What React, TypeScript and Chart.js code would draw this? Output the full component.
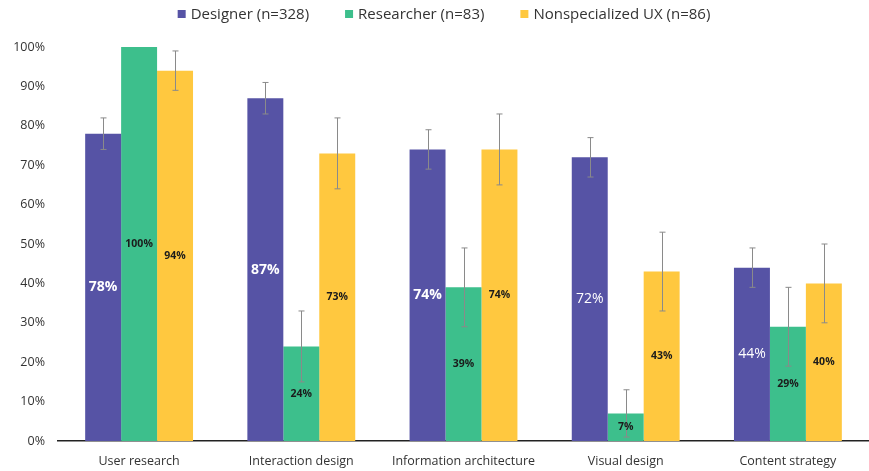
import React, { useEffect, useRef } from "react";
import { Chart, registerables } from "chart.js";

Chart.register(...registerables);

const categories = ["User research", "Interaction design", "Information architecture", "Visual design", "Content strategy"];
const seriesNames = ["Designer (n=328)", "Researcher (n=83)", "Nonspecialized UX (n=86)"];
const designer = [78, 87, 74, 72, 44];
const researcher = [100, 24, 39, 7, 29];
const nonspecialized = [94, 73, 74, 43, 40];
const designerErr = [4, 4, 5, 5, 5];
const researcherErr = [0, 9, 10, 6, 10];
const nonspecializedErr = [5, 9, 9, 10, 10];
const yTicks = [0, 10, 20, 30, 40, 50, 60, 70, 80, 90, 100];

const colors = ["#5653A5", "#3DBF8C", "#FFC83F"];
const errs = [designerErr, researcherErr, nonspecializedErr];
const boldDesigner = [true, true, true, false, false];
const FONT = "'Open Sans'";

const errorBarPlugin = {
  id: "errorBars",
  afterDatasetsDraw(chart: any) {
    const ctx = chart.ctx;
    const y = chart.scales.y;
    ctx.save();
    ctx.strokeStyle = "#8a8a8a";
    ctx.lineWidth = 1;
    chart.data.datasets.forEach((ds: any, di: number) => {
      const meta = chart.getDatasetMeta(di);
      meta.data.forEach((bar: any, i: number) => {
        const e = errs[di][i];
        if (!e) return;
        const v = ds.data[i];
        const yTop = y.getPixelForValue(v + e);
        const yBot = y.getPixelForValue(v - e);
        const x = Math.round(bar.x) + 0.5;
        ctx.beginPath();
        ctx.moveTo(x, yTop);
        ctx.lineTo(x, yBot);
        ctx.moveTo(x - 3, yTop);
        ctx.lineTo(x + 3, yTop);
        ctx.moveTo(x - 3, yBot);
        ctx.lineTo(x + 3, yBot);
        ctx.stroke();
      });
    });
    chart.data.datasets.forEach((ds: any, di: number) => {
      const meta = chart.getDatasetMeta(di);
      meta.data.forEach((bar: any, i: number) => {
        const v = ds.data[i];
        const yc = y.getPixelForValue(v / 2);
        ctx.textAlign = "center";
        ctx.textBaseline = "middle";
        if (di === 0) {
          ctx.fillStyle = "#ffffff";
          ctx.font = (boldDesigner[i] ? "bold " : "") + "14px " + FONT;
        } else {
          ctx.fillStyle = "#1b1b1b";
          ctx.font = "bold 10.5px " + FONT;
        }
        ctx.fillText(v + "%", bar.x, yc);
      });
    });
    // legend
    ctx.font = "15px " + FONT;
    const box = 8, gapText = 5, gapItem = 36;
    const widths = seriesNames.map((n) => box + gapText + ctx.measureText(n).width);
    const total = widths.reduce((a, b) => a + b, 0) + gapItem * (seriesNames.length - 1);
    let x = 444 - total / 2;
    const ly = 14;
    ctx.textAlign = "left";
    ctx.textBaseline = "middle";
    seriesNames.forEach((n, i) => {
      ctx.fillStyle = colors[i];
      ctx.fillRect(x, ly - box / 2, box, box);
      ctx.fillStyle = "#333";
      ctx.fillText(n, x + box + gapText, ly + 0.5);
      x += widths[i] + gapItem;
    });
    ctx.restore();
  },
};

export default function App() {
  const ref = useRef<HTMLCanvasElement | null>(null);
  useEffect(() => {
    document.body.style.margin = "0";
    const chart = new Chart(ref.current!, {
      type: "bar",
      data: {
        labels: categories,
        datasets: [designer, researcher, nonspecialized].map((d, i) => ({
          label: seriesNames[i],
          data: d,
          backgroundColor: colors[i],
          borderWidth: 0,
          barPercentage: 1,
          categoryPercentage: 0.665,
        })),
      },
      options: {
        animation: false,
        responsive: false,
        maintainAspectRatio: false,
        layout: { padding: { top: 47, right: 0, left: 0, bottom: 0 } },
        plugins: {
          tooltip: { enabled: false },
          legend: { display: false },
        },
        scales: {
          x: {
            grid: { display: false, drawTicks: false },
            border: { display: true, color: "#222", width: 1.5 },
            afterFit: (s: any) => {
              s.height = 30;
            },
            ticks: { color: "#333", font: { family: FONT, size: 12.5 }, padding: 13 },
          },
          y: {
            min: 0,
            max: 100,
            afterBuildTicks: (s: any) => {
              s.ticks = yTicks.map((v) => ({ value: v }));
            },
            afterFit: (s: any) => {
              s.width = 58;
            },
            grid: { display: false, drawTicks: false },
            border: { display: false },
            ticks: {
              color: "#333",
              font: { family: FONT, size: 12.5 },
              padding: 13,
              callback: (v: any) => v + "%",
            },
          },
        },
      },
      plugins: [errorBarPlugin],
    });
    return () => chart.destroy();
  }, []);
  return (
    <div style={{ width: 869, height: 471 }}>
      <canvas ref={ref} width={869} height={471} style={{ width: 869, height: 471 }} />
    </div>
  );
}
